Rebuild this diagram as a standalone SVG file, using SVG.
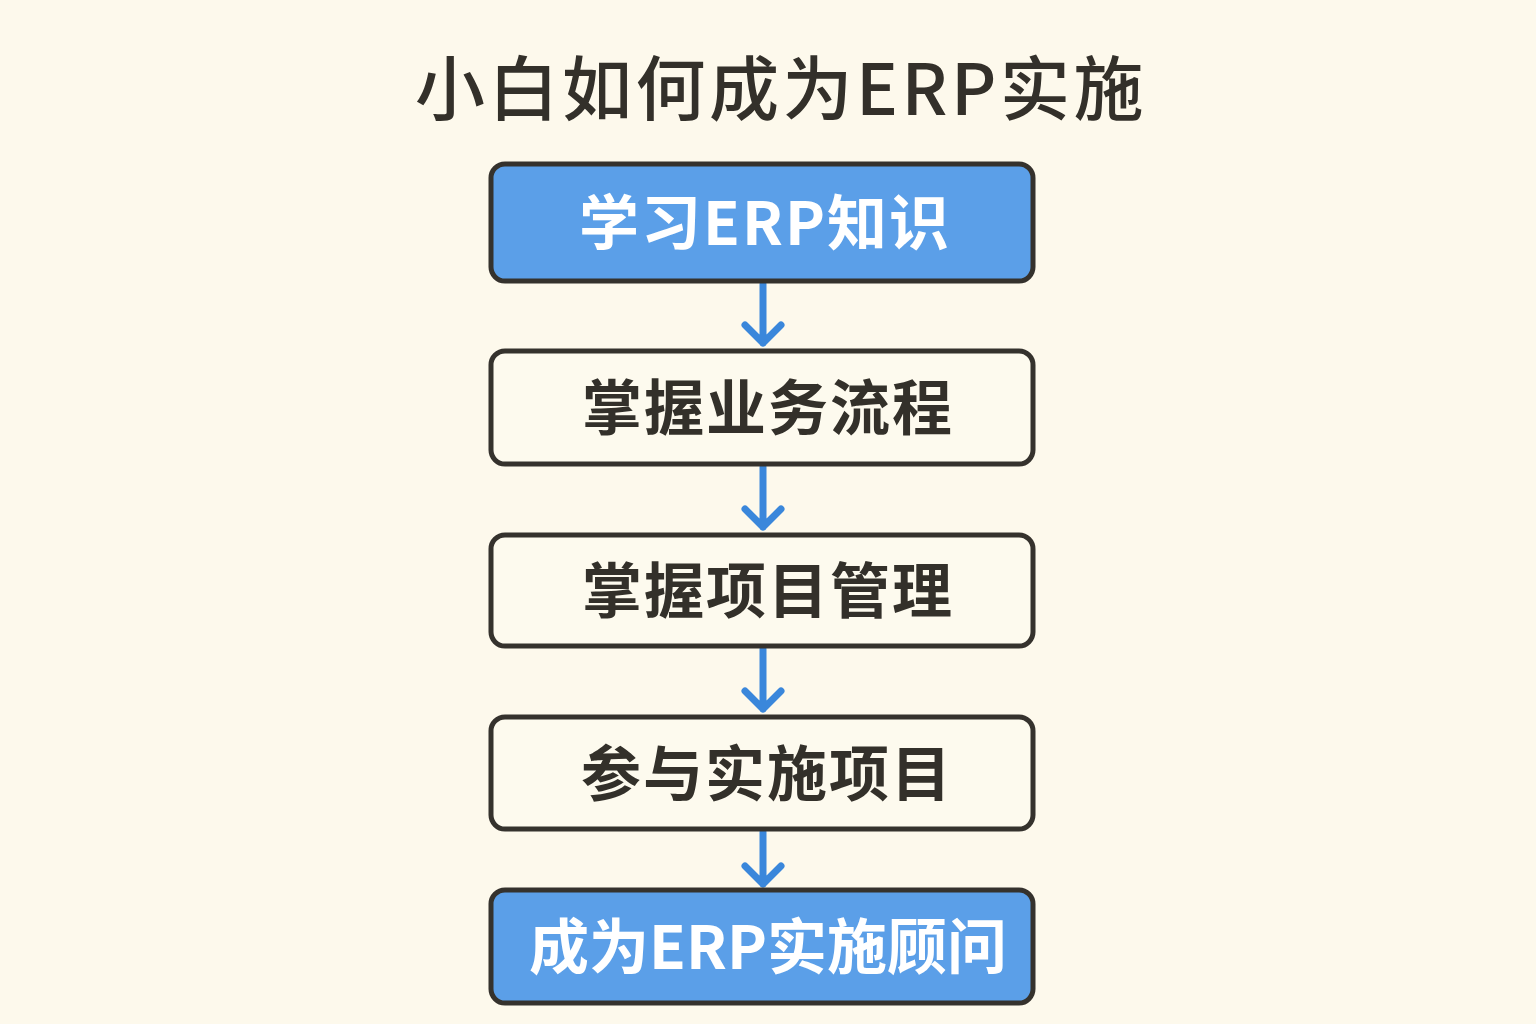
<svg xmlns="http://www.w3.org/2000/svg" width="1536" height="1024" viewBox="0 0 1536 1024">
<defs>
<style>
.box{stroke:#35322d;stroke-width:5}
.blue{fill:#5b9fe8}
.white{fill:#fdfaee}
.t{font-family:"Noto Sans CJK SC","Noto Sans",sans-serif;font-size:60px;font-weight:700;text-anchor:middle}
.ls{letter-spacing:2px}
.tw{fill:#ffffff}
.td{fill:#33302a}
.conn{stroke:#3a87db;stroke-width:7;fill:none;stroke-linecap:round;stroke-linejoin:round}
</style>
</defs>
<rect width="1536" height="1024" fill="#fdf9ec"/>
<text x="781" y="115" font-family="'Noto Sans CJK SC','Noto Sans',sans-serif" font-size="70" font-weight="500" letter-spacing="3.5" fill="#33302a" text-anchor="middle">小白如何成为ERP实施</text>
<g id="connectors">
<path class="conn" d="M763 284 V343 M745 325 L763 343 L781 325"/>
<path class="conn" d="M763 467 V527 M745 509 L763 527 L781 509"/>
<path class="conn" d="M763 649 V709 M745 691 L763 709 L781 691"/>
<path class="conn" d="M763 832 V884 M745 866 L763 884 L781 866"/>
</g>
<g id="n1"><rect class="box blue" x="491" y="164" width="542" height="117" rx="14"/><text class="t tw ls" x="765" y="245">学习ERP知识</text></g>
<g id="n2"><rect class="box white" x="491" y="351" width="542" height="113" rx="14"/><text class="t td ls" x="768" y="430">掌握业务流程</text></g>
<g id="n3"><rect class="box white" x="491" y="535" width="542" height="111" rx="14"/><text class="t td ls" x="768" y="613">掌握项目管理</text></g>
<g id="n4"><rect class="box white" x="491" y="717" width="542" height="112" rx="14"/><text class="t td ls" x="767" y="796">参与实施项目</text></g>
<g id="n5"><rect class="box blue" x="491" y="890" width="542" height="113" rx="14"/><text class="t tw" x="768" y="969">成为ERP实施顾问</text></g>
</svg>
